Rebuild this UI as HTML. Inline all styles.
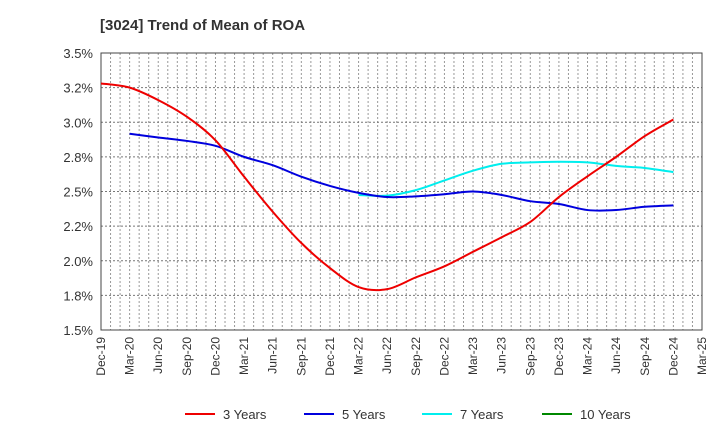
<!DOCTYPE html>
<html><head><meta charset="utf-8"><style>
body{margin:0;background:#fff;font-family:"Liberation Sans",sans-serif}
svg text{font-family:"Liberation Sans",sans-serif}
</style></head><body>
<svg id="c" width="720" height="440" xmlns="http://www.w3.org/2000/svg">
<text x="100" y="30" font-size="15" font-weight="bold" fill="#333">[3024]  Trend of Mean of ROA</text>
</svg>
<script>
const xLabels=["Dec-19","Mar-20","Jun-20","Sep-20","Dec-20","Mar-21","Jun-21","Sep-21","Dec-21","Mar-22","Jun-22","Sep-22","Dec-22","Mar-23","Jun-23","Sep-23","Dec-23","Mar-24","Jun-24","Sep-24","Dec-24","Mar-25"];
const yTicks=[1.5,1.75,2.0,2.25,2.5,2.75,3.0,3.25,3.5];
const yTickLabels=["1.5%","1.8%","2.0%","2.2%","2.5%","2.8%","3.0%","3.2%","3.5%"];
const y3=[3.28,3.25,3.16,3.04,2.87,2.607,2.354,2.128,1.947,1.81,1.795,1.88,1.96,2.065,2.17,2.28,2.46,2.61,2.75,2.9,3.02];
const y5=[null,2.917,2.89,2.865,2.83,2.75,2.69,2.607,2.54,2.49,2.46,2.465,2.48,2.50,2.475,2.43,2.41,2.366,2.366,2.39,2.40];
const y7=[null,null,null,null,null,null,null,null,null,2.475,2.47,2.51,2.58,2.65,2.70,2.71,2.715,2.71,2.685,2.67,2.64];
const y10=[];
const seriesNames=["3 Years","5 Years","7 Years","10 Years"];
const colors=["#ee0000","#0000dd","#00eeee","#008800"];
const L=101,R=702,T=53,B=330;
const xs=i=>L+(R-L)*i/21;
const ys=v=>B-(v-1.5)/2*(B-T);
const svg=document.getElementById('c');
const NS="http://www.w3.org/2000/svg";
function mk(t,a){const e=document.createElementNS(NS,t);for(const k in a)e.setAttribute(k,a[k]);svg.appendChild(e);return e;}
for(let m=1;m<63;m++){const x=L+(R-L)*m/63;
const g=mk('line',{x1:x,x2:x,y1:T,y2:B,stroke:'#999','stroke-dasharray':'2,2','stroke-width':1});

}
yTicks.forEach((v,i)=>{const y=ys(v);
if(i>0&&i<yTicks.length-1){const g=mk('line',{x1:L,x2:R,y1:y,y2:y,stroke:'#777','stroke-dasharray':'2,2','stroke-width':1});

}
const t=mk('text',{x:L-8,y:y+5,'text-anchor':'end','font-size':13,fill:'#333'});t.textContent=yTickLabels[i];

});
const fr=mk('rect',{x:L,y:T,width:R-L,height:B-T,fill:'none',stroke:'#444','stroke-width':1});


xLabels.forEach((s,i)=>{const x=xs(i);const t=mk('text',{x:0,y:0,'text-anchor':'end','font-size':12,fill:'#333',transform:`translate(${x+4},${B+7}) rotate(-90)`});t.textContent=s;

});
function path(arr){const p=[];arr.forEach((v,i)=>{if(v!=null)p.push([xs(i),ys(v)]);});
if(p.length<2)return '';let d=`M${p[0][0]},${p[0][1]}`;
for(let i=0;i<p.length-1;i++){const p0=p[i-1]||p[i],p1=p[i],p2=p[i+1],p3=p[i+2]||p2;
d+=` C${p1[0]+(p2[0]-p0[0])/6},${p1[1]+(p2[1]-p0[1])/6} ${p2[0]-(p3[0]-p1[0])/6},${p2[1]-(p3[1]-p1[1])/6} ${p2[0]},${p2[1]}`;}return d;}
[[y7,2,'series-7-years'],[y5,1,'series-5-years'],[y3,0,'series-3-years'],[y10,3,'series-10-years']].forEach(([a,c,n])=>{const d=path(a);if(!d)return;
const e=mk('path',{d:d,fill:'none',stroke:colors[c],'stroke-width':2});

});
const lx=[185,304,422,542];
seriesNames.forEach((s,i)=>{
const l=mk('line',{x1:lx[i],x2:lx[i]+30,y1:414,y2:414,stroke:colors[i],'stroke-width':2});


const t=mk('text',{x:lx[i]+38,y:419,'font-size':13,fill:'#333'});t.textContent=s;

});
</script>
</body></html>
